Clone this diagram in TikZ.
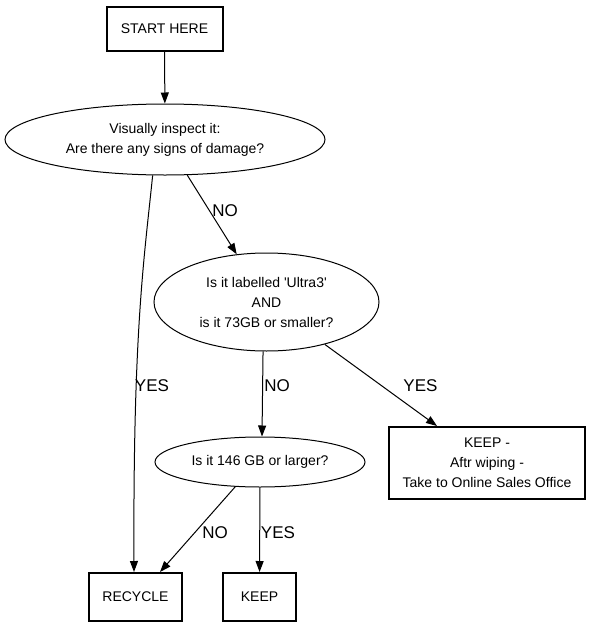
\documentclass[tikz,border=0pt]{standalone}
\usepackage{fontspec}
\setmainfont{Liberation Sans}
\usetikzlibrary{shapes.geometric, arrows.meta, positioning, calc}

\begin{document}
\begin{tikzpicture}[
    x=1pt, y=-1pt,
    box/.style={rectangle, draw, line width=2pt, inner sep=0pt, align=center, font=\fontsize{14}{20}\selectfont},
    question/.style={ellipse, draw, line width=1pt, inner sep=0pt, align=center, font=\fontsize{14}{20}\selectfont},
    edge/.style={line width=1pt, -{Triangle[length=11pt, width=8pt]}},
    lbl/.style={inner sep=0pt, font=\fontsize{17}{20}\selectfont}
  ]
  \useasboundingbox (0,0) rectangle (589,627);

  % nodes
  \node[box, minimum width=116, minimum height=44] (start) at (164.5, 29) {START HERE};
  \node[question, minimum width=320, minimum height=71] (damage) at (165, 139.5)
    {Visually inspect it:\\Are there any signs of damage?};
  \node[question, minimum width=225, minimum height=98] (ultra) at (266.5, 302)
    {Is it labelled \textquotesingle Ultra3\textquotesingle\\AND\\is it 73GB or smaller?};
  \node[question, minimum width=210, minimum height=50] (size) at (260, 462) {Is it 146 GB or larger?};
  \node[box, minimum width=196, minimum height=72] (wipe) at (487, 463)
    {KEEP -\\Aftr wiping -\\Take to Online Sales Office};
  \node[box, minimum width=93, minimum height=48] (recycle) at (135.5, 597) {RECYCLE};
  \node[box, minimum width=73, minimum height=48] (keep) at (259.5, 597) {KEEP};

  % edges
  \draw[edge] (damage.251) .. controls (144, 260) and (133, 330) .. ($(recycle.north)+(-1.5,0)$);
  \draw[edge] (start) -- (damage);
  \draw[edge] (damage) -- (ultra);
  \draw[edge] (ultra.266) -- ($(size.north)+(2,0)$);
  \draw[edge] (ultra) -- ($(wipe.north)+(-50,0)$);
  \draw[edge] (size.225) -- ($(recycle.north)+(24.5,0)$);
  \draw[edge] (size) -- (keep);

  % edge labels
  \node[lbl] (ldamyes) at (152, 386) {YES};
  \node[lbl] (ldamno) at (225, 211) {NO};
  \node[lbl] (lultno) at (277, 386) {NO};
  \node[lbl] (lultyes) at (420.5, 386) {YES};
  \node[lbl] (lsizno) at (215, 533) {NO};
  \node[lbl] (lsizyes) at (278, 533) {YES};
\end{tikzpicture}
\end{document}
